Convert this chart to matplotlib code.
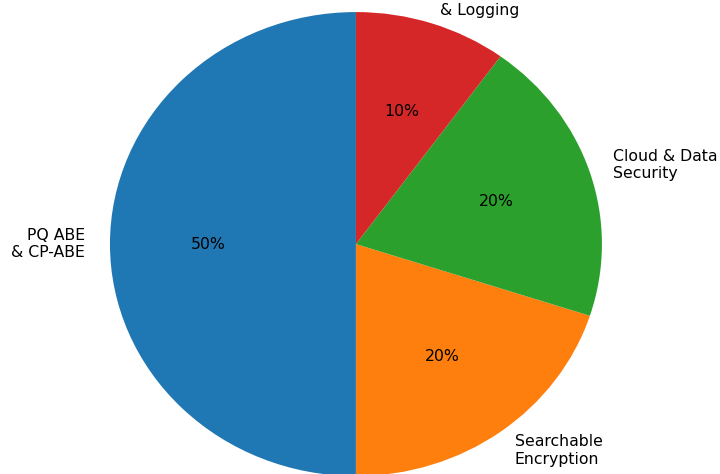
import matplotlib.pyplot as plt

labels = ['PQ ABE\n& CP-ABE', 'Searchable\nEncryption', 'Cloud & Data\nSecurity', 'Auditing\n& Logging']
shares = [50, 20, 20, 10]
colors = ['#1f77b4', '#ff7f0e', '#2ca02c', '#d62728']

fig = plt.figure(figsize=(7.2, 4.74), dpi=100)
ax = fig.add_axes([0, 0, 1, 1])

ax.pie(shares, labels=labels, colors=colors, autopct='%1.0f%%',
       startangle=90, textprops={'fontsize': 11.3})

# stretched pie, slightly clipped at the bottom edge
ax.set_aspect('auto')
ax.set_xlim(-1.447, 1.480)
ax.set_ylim(-0.991, 1.052)
ax.axis('off')

fig.savefig('out.png', dpi=100)
